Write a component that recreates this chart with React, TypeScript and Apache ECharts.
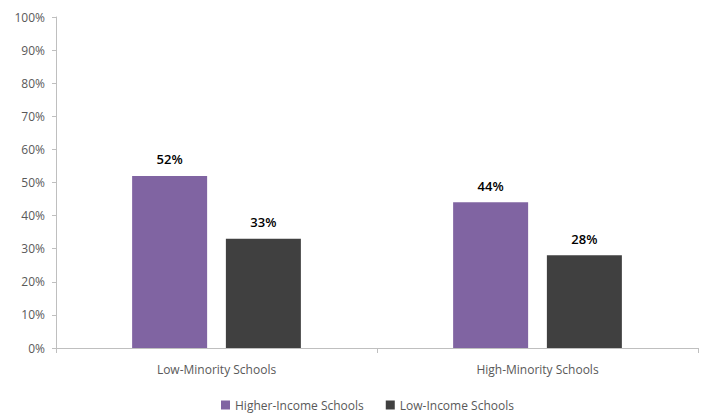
import React, { useEffect, useRef } from "react";
import * as echarts from "echarts";

const categories = ["Low-Minority Schools", "High-Minority Schools"];
const higherIncome = [52, 44];
const lowIncome = [33, 28];
const seriesNames = ["Higher-Income Schools", "Low-Income Schools"];

const FONT = "'Open Sans', sans-serif";

export default function App() {
  const ref = useRef<HTMLDivElement>(null);
  useEffect(() => {
    const chart = echarts.init(ref.current!, null, { renderer: "svg" });
    const labelCfg = {
      show: true,
      position: "top" as const,
      distance: 10,
      formatter: (p: any) => `${p.value}%`,
      color: "#000",
      fontFamily: FONT,
      fontSize: 13,
      fontWeight: 600 as any,
    };
    chart.setOption({
      animation: false,
      grid: { left: 56, right: 7, top: 17, bottom: 70, containLabel: false },
      legend: {
        bottom: 2,
        left: 216,
        itemWidth: 9,
        itemHeight: 9,
        itemGap: 22,
        icon: "rect",
        textStyle: { color: "#595959", fontFamily: FONT, fontSize: 12 },
        data: seriesNames,
      },
      xAxis: {
        type: "category",
        data: categories,
        axisLine: { lineStyle: { color: "#BFBFBF" } },
        axisTick: { show: true, length: 5, alignWithLabel: false, lineStyle: { color: "#BFBFBF" } },
        axisLabel: { color: "#595959", fontFamily: FONT, fontSize: 12, margin: 15 },
      },
      yAxis: {
        type: "value",
        min: 0,
        max: 100,
        interval: 10,
        axisLine: { show: true, lineStyle: { color: "#BFBFBF" } },
        axisTick: { show: true, length: 4, lineStyle: { color: "#BFBFBF" } },
        splitLine: { show: false },
        axisLabel: { color: "#595959", fontFamily: FONT, fontSize: 12, margin: 11, formatter: "{value}%" },
      },
      series: [
        {
          name: seriesNames[0],
          type: "bar",
          data: higherIncome,
          barWidth: 75,
          barGap: "25%",
          itemStyle: { color: "#8064A2" },
          label: labelCfg,
        },
        {
          name: seriesNames[1],
          type: "bar",
          data: lowIncome,
          barWidth: 75,
          barGap: "25%",
          itemStyle: { color: "#404040" },
          label: labelCfg,
        },
      ],
    });
    return () => chart.dispose();
  }, []);
  return <div ref={ref} style={{ width: 705, height: 418, position: "absolute", left: 0, top: 0 }} />;
}
